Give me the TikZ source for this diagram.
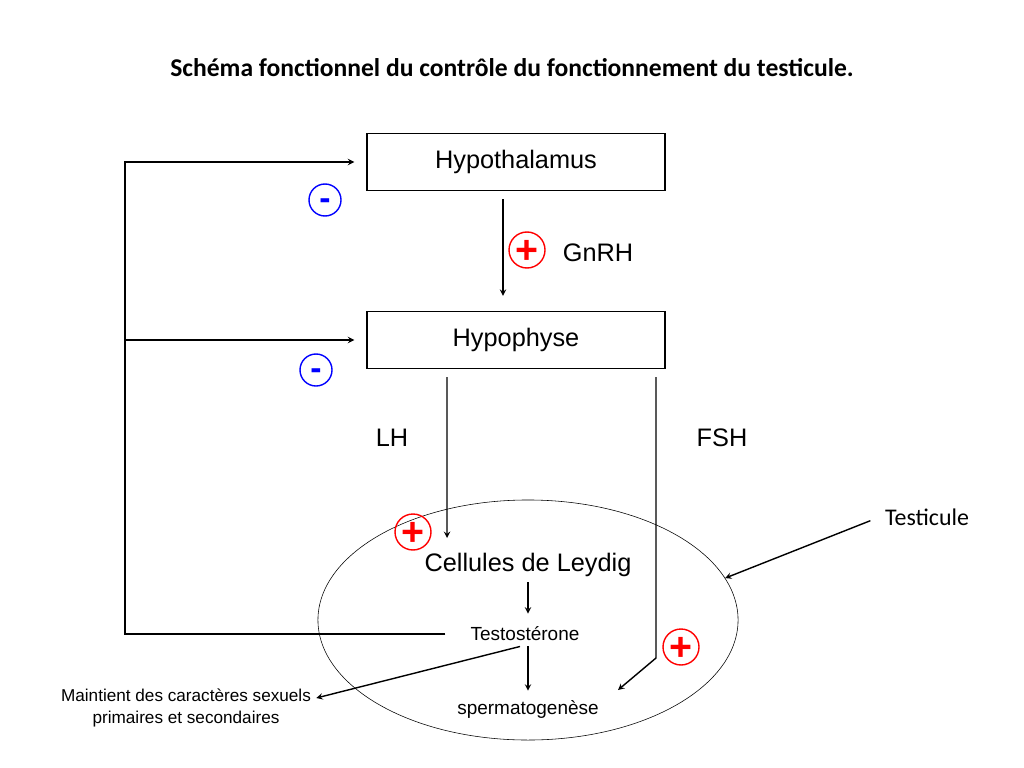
\documentclass[tikz,border=0pt]{standalone}
\usepackage{fontspec}
\setmainfont{Liberation Sans}
\newfontfamily\calibri{Carlito}
\usetikzlibrary{shapes.geometric,positioning}

\tikzset{
  organ/.style={draw, minimum width=7.45cm, minimum height=1.425cm, font=\fontsize{18}{22}\selectfont},
  plussign/.style={circle, draw=red, text=red, minimum size=0.8cm, inner sep=0pt, text height=19.8pt, text depth=0pt, font=\bfseries\fontsize{28}{28}\selectfont},
  minussign/.style={circle, draw=blue, text=blue, minimum size=0.8cm, inner sep=0pt, text height=14pt, text depth=0pt, font=\bfseries\fontsize{24}{24}\selectfont},
  big/.style={font=\fontsize{18}{22}\selectfont},
  small/.style={font=\fontsize{13.5}{16}\selectfont}
}

\begin{document}
\begin{tikzpicture}[x=0.025cm,y=-0.025cm,>=stealth,line width=1pt]
        \useasboundingbox (0,0) rectangle (1024,768);
        \node[font=\calibri\bfseries\fontsize{18.2}{22}\selectfont] (title) at (512,68) {Schéma fonctionnel du contrôle du fonctionnement du testicule.};
        \node[organ] (h_thal) at (516,162) {Hypothalamus};
        \node[organ] (h_phys) at (516,340) {Hypophyse};
        \node[draw, ellipse, minimum width=10.5cm, minimum height=6cm, thin] (testis) at (528,620) {};
        \node[big] (leydig) at (528,565) {Cellules de Leydig};
        \node[small] (testo) at (525,634) {Testostérone};
        \node[small] (sperm) at (528,709) {spermatogenèse};
        \node[small, align=center, font=\fontsize{12.2}{15}\selectfont] (maint) at (186,708) {Maintient des caractères sexuels\\primaires et secondaires};
        \node[font=\calibri\fontsize{17}{20}\selectfont] (testi) at (927,517) {Testicule};
        \node[big] (gnrh) at (598,253) {GnRH};
        \node[big] (lh) at (392,438) {LH};
        \node[big] (fsh) at (722,438) {FSH};
        \node[minussign] (n_1) at (325,200) {-};
        \node[minussign] (n_2) at (316,370) {-};
        \node[plussign] (p_1) at (527,250) {+};
        \node[plussign] (p_2) at (413,532) {+};
        \node[plussign] (p_3) at (681,647) {+};
        \coordinate (fb) at (125,634);
        \coordinate (lh_end) at (447,538);
        \coordinate (fsh_bend) at (656,658);
        \coordinate (fsh_end) at (618,690);
        \draw[->, shorten <=0.2cm, shorten >=0.375cm] ([xshift=-0.325cm]h_thal.south) -- ([xshift=-0.325cm]h_phys.north);
        \draw[->, shorten <=0.2cm] ([xshift=-1.725cm]h_phys.south) -- (lh_end);
        \draw[->, shorten <=0.2cm] ([xshift=3.5cm]h_phys.south) -- (fsh_bend) -- (fsh_end);
        \draw[->, shorten <=0.5cm, shorten >=0.3cm] (testo.west) -- (fb) |- (h_thal.west);
        \draw[->, shorten >=0.3cm] (fb |- h_phys.west) -- (h_phys.west);
        \draw[->, shorten >=0.2cm] (leydig.south) -- (leydig.south |- testo.north);
        \draw[->, shorten >=0.1cm] (sperm.north |- testo.south) -- (sperm.north);
        \draw[->] ([xshift=-0.125cm]testo.south) -- ([yshift=0.25cm]maint.east);
        \draw[->, shorten <=0.25cm] (testi.west) -- (testis.12);
\end{tikzpicture}
\end{document}
